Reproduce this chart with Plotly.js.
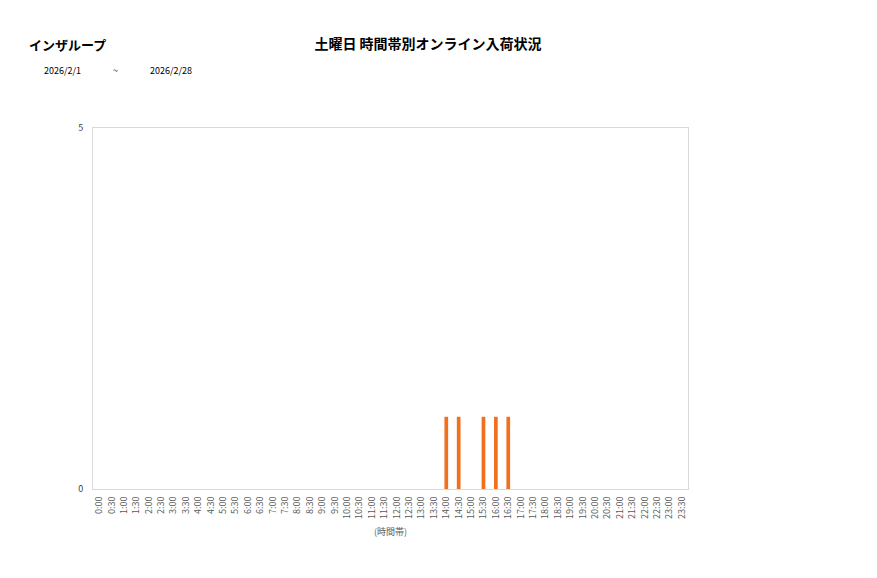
<!DOCTYPE html>
<html>
<head>
<meta charset="utf-8">
<script src="https://cdn.plot.ly/plotly-3.0.1.min.js"></script>
<style>
  body { margin: 0; background: #fff; }
  #chart { width: 877px; height: 578px; }
</style>
</head>
<body>
<div id="chart"></div>
<script>
var timeSlots = ["0:00","0:30","1:00","1:30","2:00","2:30","3:00","3:30","4:00","4:30",
  "5:00","5:30","6:00","6:30","7:00","7:30","8:00","8:30","9:00","9:30",
  "10:00","10:30","11:00","11:30","12:00","12:30","13:00","13:30","14:00","14:30",
  "15:00","15:30","16:00","16:30","17:00","17:30","18:00","18:30","19:00","19:30",
  "20:00","20:30","21:00","21:30","22:00","22:30","23:00","23:30"];
var arrivals = [0,0,0,0,0,0,0,0,0,0,
  0,0,0,0,0,0,0,0,0,0,
  0,0,0,0,0,0,0,0,1,1,
  0,1,1,1,0,0,0,0,0,0,
  0,0,0,0,0,0,0,0];
var yTicks = [0, 5];

var shopName = "インザループ";
var chartTitle = "土曜日 時間帯別オンライン入荷状況";
var dateFrom = "2026/2/1";
var dateTo = "2026/2/28";

var jp = '"Noto Sans CJK JP", "Noto Sans", sans-serif';

var trace = {
  x: timeSlots,
  y: arrivals,
  type: "bar",
  marker: { color: "#f0701e" },
  hoverinfo: "x+y"
};

var layout = {
  width: 877,
  height: 578,
  margin: { l: 93, r: 189, t: 128, b: 89 },
  paper_bgcolor: "#fff",
  plot_bgcolor: "#fff",
  font: { family: jp, color: "#404040", size: 9 },
  showlegend: false,
  bargap: 0.7,
  title: {
    text: "<b>" + chartTitle + "</b>",
    font: { family: jp, size: 14, color: "#000" },
    xref: "paper", x: 0.563, xanchor: "center",
    yref: "container", y: 1 - 44 / 578, yanchor: "middle"
  },
  xaxis: {
    type: "category",
    tickangle: -90,
    tickfont: { size: 9, color: "#595959" },
    showline: true, linecolor: "#d9d9d9", linewidth: 1, mirror: true,
    showgrid: false, ticks: "", zeroline: false,
    ticklabelstandoff: 3,
    title: { text: "(時間帯)", font: { size: 9, color: "#595959" }, standoff: 10 }
  },
  yaxis: {
    range: [0, 5],
    tickvals: yTicks,
    ticktext: yTicks.map(String),
    tickfont: { size: 9, color: "#404040" },
    showline: true, linecolor: "#d9d9d9", linewidth: 1, mirror: true,
    showgrid: false, zeroline: false, ticks: "", ticklen: 0,
    ticklabelstandoff: 7
  },
  annotations: [
    { text: "<b>" + shopName + "</b>", xref: "paper", yref: "paper", x: (27 - 93) / 595, y: 1 + (128 - 44) / 361,
      xanchor: "left", yanchor: "middle", showarrow: false,
      font: { family: jp, size: 13, color: "#000" } },
    { text: dateFrom, xref: "paper", yref: "paper", x: (42 - 93) / 595, y: 1 + (128 - 71) / 361,
      xanchor: "left", yanchor: "middle", showarrow: false,
      font: { family: jp, size: 9, color: "#000" } },
    { text: "~", xref: "paper", yref: "paper", x: (115 - 93) / 595, y: 1 + (128 - 71) / 361,
      xanchor: "center", yanchor: "middle", showarrow: false,
      font: { family: jp, size: 9, color: "#000" } },
    { text: dateTo, xref: "paper", yref: "paper", x: (148 - 93) / 595, y: 1 + (128 - 71) / 361,
      xanchor: "left", yanchor: "middle", showarrow: false,
      font: { family: jp, size: 9, color: "#000" } }
  ]
};

Plotly.newPlot("chart", [trace], layout, { displayModeBar: false, staticPlot: true });
</script>
</body>
</html>
